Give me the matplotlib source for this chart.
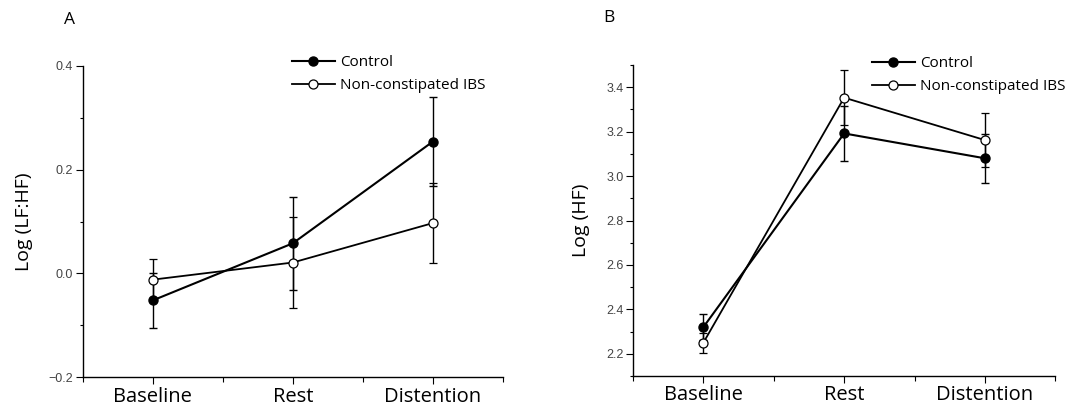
import matplotlib.pyplot as plt
from matplotlib.lines import Line2D
from matplotlib.ticker import MultipleLocator

plt.rcParams['font.family'] = ['Open Sans', 'DejaVu Sans']

# data
phases = ["Baseline", "Rest", "Distention"]

lfhf_ctrl = [-0.052, 0.058, 0.254]
lfhf_ctrl_err = [0.053, 0.090, 0.086]
lfhf_ibs = [-0.012, 0.021, 0.097]
lfhf_ibs_err = [0.039, 0.087, 0.077]

hf_ctrl = [2.32, 3.192, 3.08]
hf_ctrl_err = [0.058, 0.125, 0.11]
hf_ibs = [2.25, 3.353, 3.162]
hf_ibs_err = [0.045, 0.123, 0.122]

W, H = 1073, 408
fig = plt.figure(figsize=(W / 100, H / 100), dpi=100)
axA = fig.add_axes([82.6 / W, 1 - 377.3 / H, 420.4 / W, 311.6 / H])
axB = fig.add_axes([633 / W, 1 - 376 / H, 422.3 / W, 311 / H])

def draw(ax, ctrl, ctrl_err, ibs, ibs_err, ylab, ylim, leg_xy, ylabpad):
    x = range(len(phases))
    ax.errorbar(x, ctrl, yerr=ctrl_err, color="black", lw=1.5, marker="o",
                ms=6.5, mfc="black", mec="black", ecolor="black",
                elinewidth=1.0, capsize=3, capthick=1.0, zorder=3)
    ax.errorbar(x, ibs, yerr=ibs_err, color="black", lw=1.3, marker="o",
                ms=6.5, mfc="white", mec="black", mew=0.9, ecolor="black",
                elinewidth=1.0, capsize=3, capthick=1.0, zorder=4)
    ax.set_xlim(-0.5, 2.5)
    ax.set_ylim(*ylim)
    ax.set_xticks(list(x))
    ax.set_xticklabels(phases, fontsize=14.5)
    ax.xaxis.set_minor_locator(MultipleLocator(0.5))
    ax.yaxis.set_major_locator(MultipleLocator(0.2))
    ax.yaxis.set_minor_locator(MultipleLocator(0.1))
    ax.yaxis.set_major_formatter(lambda v, p: f"{v:.1f}".replace("-", "\u2212"))
    for lab in ax.get_yticklabels():
        lab.set_family("Liberation Sans")
    for s in ["top", "right"]:
        ax.spines[s].set_visible(False)
    for s in ["left", "bottom"]:
        ax.spines[s].set_linewidth(1.0)
    ax.tick_params(axis="y", which="major", length=4.8, width=0.8,
                   labelsize=9, labelcolor="#444444", pad=2)
    ax.tick_params(axis="y", which="minor", length=2.5, width=0.8)
    ax.tick_params(axis="x", which="major", length=4.8, width=0.8, pad=2)
    ax.tick_params(axis="x", which="minor", length=3.5, width=0.8)
    ax.set_ylabel(ylab, fontsize=14, labelpad=ylabpad)
    # legend without the error-bar glyphs
    handles = [
        Line2D([], [], color="black", lw=1.5, marker="o", ms=6.5,
               mfc="black", mec="black"),
        Line2D([], [], color="black", lw=1.3, marker="o", ms=6.5,
               mfc="white", mec="black", mew=0.9),
    ]
    ax.legend(handles, ["Control", "Non-constipated IBS"], loc="upper left",
              bbox_to_anchor=leg_xy, bbox_transform=fig.transFigure,
              frameon=False, fontsize=11, handlelength=2.8,
              handletextpad=0.35, labelspacing=0.55, borderpad=0,
              borderaxespad=0)

draw(axA, lfhf_ctrl, lfhf_ctrl_err, lfhf_ibs, lfhf_ibs_err,
     "Log (LF:HF)", (-0.2, 0.4), (292 / W, 1 - 55 / H), 11)
draw(axB, hf_ctrl, hf_ctrl_err, hf_ibs, hf_ibs_err,
     "Log (HF)", (2.1, 3.5), (872 / W, 1 - 56 / H), 12)

fig.text(69 / W, 1 - 20 / H, "A", fontsize=12.5, ha="center", va="center")
fig.text(609 / W, 1 - 18 / H, "B", fontsize=12.5, ha="center", va="center")

fig.savefig("out.png", dpi=100)
